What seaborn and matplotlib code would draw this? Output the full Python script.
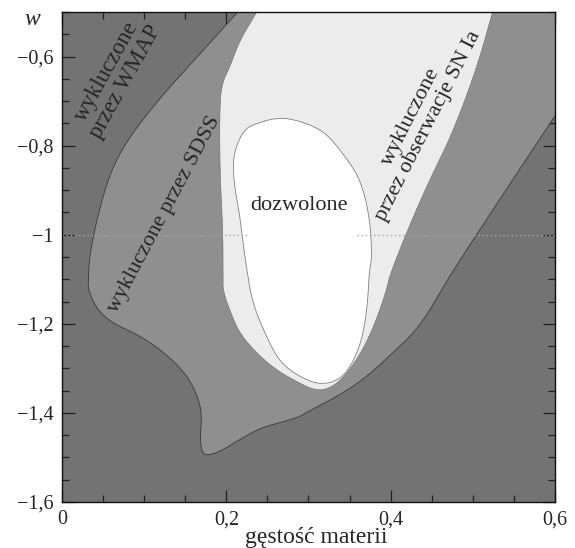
import numpy as np
import seaborn as sns
import matplotlib.pyplot as plt
from matplotlib.ticker import MultipleLocator, FuncFormatter

# granica obszaru dozwolonego przez WMAP (od gornej krawedzi do prawej)
wmap_x = [0.214, 0.168, 0.119, 0.079, 0.058, 0.043, 0.034, 0.032, 0.032, 0.043, 0.062,
          0.086, 0.107, 0.135, 0.156, 0.168, 0.170, 0.168, 0.170, 0.176, 0.192, 0.216,
          0.241, 0.265, 0.289, 0.298, 0.338, 0.371, 0.402, 0.435, 0.468, 0.478, 0.508,
          0.548, 0.600]
wmap_w = [-0.50, -0.594, -0.693, -0.788, -0.863, -0.961, -1.042, -1.096, -1.125, -1.169,
          -1.199, -1.219, -1.241, -1.281, -1.326, -1.378, -1.416, -1.454, -1.487, -1.496,
          -1.487, -1.460, -1.434, -1.422, -1.409, -1.398, -1.360, -1.319, -1.266, -1.208,
          -1.105, -1.075, -0.990, -0.878, -0.733]

# granica obszaru SDSS (jasny)
sn_x = [0.237, 0.216, 0.204, 0.196, 0.192, 0.192, 0.196, 0.196, 0.196, 0.204, 0.216,
        0.237, 0.261, 0.289, 0.305, 0.320, 0.338, 0.359, 0.378, 0.395, 0.399, 0.427,
        0.451, 0.475, 0.505, 0.524]
sn_w = [-0.50, -0.565, -0.625, -0.654, -0.699, -0.849, -0.997, -1.096, -1.125, -1.169,
        -1.221, -1.266, -1.304, -1.333, -1.347, -1.349, -1.330, -1.281, -1.214, -1.125,
        -1.089, -0.961, -0.863, -0.773, -0.625, -0.50]

# obszar dozwolony (bialy, zamkniety)
ok_x = [0.232, 0.265, 0.298, 0.322, 0.342, 0.359, 0.368, 0.373, 0.376, 0.377, 0.374,
        0.372, 0.366, 0.354, 0.338, 0.314, 0.289, 0.265, 0.249, 0.232, 0.225, 0.220,
        0.216, 0.210, 0.208, 0.213, 0.222]
ok_w = [-0.753, -0.735, -0.749, -0.773, -0.818, -0.863, -0.908, -0.952, -0.997, -1.057,
        -1.080, -1.154, -1.230, -1.288, -1.326, -1.337, -1.319, -1.286, -1.230, -1.154,
        -1.080, -1.013, -0.952, -0.894, -0.834, -0.796, -0.765]

ref_w = -1
ref_gap = (0.226, 0.359)
xlim = (0, 0.6)
ylim = (-1.6, -0.5)


def chaikin(x, y, n=3, closed=False):
    p = np.column_stack([x, y])
    for _ in range(n):
        q = np.roll(p, -1, axis=0) if closed else p[1:]
        a = p if closed else p[:-1]
        new = np.empty((2 * len(a), 2))
        new[0::2] = 0.75 * a + 0.25 * q
        new[1::2] = 0.25 * a + 0.75 * q
        if not closed:
            new = np.vstack([p[:1], new, p[-1:]])
        p = new
    if closed:
        p = np.vstack([p, p[:1]])
    return p[:, 0], p[:, 1]


sns.set_style('ticks')
plt.rcParams['font.family'] = ['Liberation Serif', 'DejaVu Serif']

fig = plt.figure(figsize=(5.75, 5.48), dpi=100)
ax = fig.add_axes([0.1078, 0.0839, 0.8574, 0.8942])
ax.set_facecolor('#737373')

wx, wy = chaikin(wmap_x, wmap_w)
ax.fill(np.append(wx, xlim[1]), np.append(wy, ylim[1]), color='#8f8f8f', lw=0)
sns.lineplot(x=wx, y=wy, sort=False, estimator=None, color='#3a3a3a', lw=0.6, ax=ax)

sx, sy = chaikin(sn_x, sn_w)
ax.fill(sx, sy, color='#ececec', lw=0)
sns.lineplot(x=sx, y=sy, sort=False, estimator=None, color='#6a6a6a', lw=0.4, ax=ax)

ox, oy = chaikin(ok_x, ok_w, closed=True)
ax.fill(ox, oy, color='white', lw=0)
sns.lineplot(x=ox, y=oy, sort=False, estimator=None, color='#808080', lw=0.6, ax=ax)

ax.hlines([ref_w, ref_w], [xlim[0], ref_gap[1]], [ref_gap[0], xlim[1]],
          colors='#a8a8a8', linestyles=(0, (1, 2)), lw=1)

ax.text(0.066, -0.645, 'wykluczone\nprzez WMAP', rotation=61, fontsize=16.5,
        ha='center', va='center', linespacing=1.0)
ax.text(0.125, -0.955, 'wykluczone przez SDSS', rotation=62, fontsize=16,
        ha='center', va='center')
ax.text(0.435, -0.745, 'wykluczone\nprzez obserwacje SN Ia', rotation=63, fontsize=16,
        ha='center', va='center', linespacing=1.0)
ax.text(0.289, -0.935, 'dozwolone', fontsize=16, ha='center', va='center')

ax.set_xlim(*xlim)
ax.set_ylim(*ylim)
ax.xaxis.set_major_locator(MultipleLocator(0.2))
ax.xaxis.set_minor_locator(MultipleLocator(0.05))
ax.yaxis.set_major_locator(MultipleLocator(0.2))
ax.yaxis.set_minor_locator(MultipleLocator(0.05))
fmt = FuncFormatter(lambda v, p: f'{v:g}'.replace('.', ',').replace('-', '\u2212'))
ax.xaxis.set_major_formatter(fmt)
ax.yaxis.set_major_formatter(fmt)
ax.set_yticks([-1.6, -1.4, -1.2, -1.0, -0.8, -0.6])
ax.tick_params(which='both', direction='in', top=True, right=True, color='#222222',
               labelsize=14.5, width=0.9)
ax.tick_params(which='major', length=9, pad=6)
ax.tick_params(which='minor', length=5)
for s in ax.spines.values():
    s.set_linewidth(1.0)
    s.set_color('#111111')

ax.set_xlabel('gęstość materii', fontsize=17, labelpad=-2)
ax.xaxis.label.set_x(0.515)
ax.text(-0.06, 0.985, 'w', transform=ax.transAxes, fontsize=17, style='italic',
        ha='center', va='center')

fig.savefig('out.png', dpi=100)
